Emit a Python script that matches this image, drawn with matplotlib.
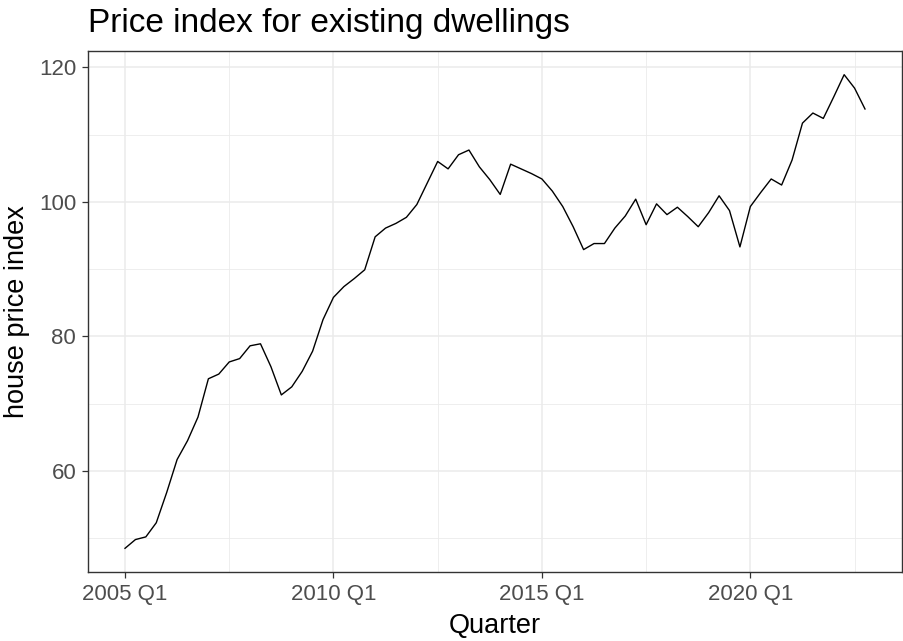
import matplotlib.pyplot as plt
import numpy as np

plt.rcParams['font.family'] = ['Liberation Sans', 'DejaVu Sans']

# quarterly price index, 2005 Q1 .. 2022 Q4
years = list(range(2005, 2023))
hpi = [
    48.5, 49.8, 50.2, 52.3,
    56.8, 61.7, 64.5, 68.0,
    73.7, 74.4, 76.2, 76.7,
    78.6, 78.9, 75.5, 71.3,
    72.5, 74.8, 77.8, 82.5,
    85.8, 87.4, 88.6, 89.9,
    94.8, 96.1, 96.8, 97.7,
    99.6, 102.8, 106.0, 104.9,
    107.0, 107.7, 105.2, 103.3,
    101.1, 105.6, 104.9, 104.2,
    103.4, 101.6, 99.3, 96.3,
    92.9, 93.8, 93.8, 96.1,
    97.9, 100.4, 96.6, 99.7,
    98.1, 99.2, 97.8, 96.3,
    98.4, 100.9, 98.7, 93.3,
    99.3, 101.4, 103.4, 102.5,
    106.2, 111.7, 113.2, 112.4,
    115.6, 118.9, 116.9, 113.8,
]
quarters = [f"{y} Q{q}" for y in years for q in range(1, 5)]

x = np.arange(len(hpi))
tick_labels = ["2005 Q1", "2010 Q1", "2015 Q1", "2020 Q1"]
tick_pos = [quarters.index(t) for t in tick_labels]

W, H = 904, 641
fig = plt.figure(figsize=(W / 100, H / 100), dpi=100)
left, right, top, bottom = 88, 902, 51, 572
ax = fig.add_axes([left / W, (H - bottom) / H, (right - left) / W, (bottom - top) / H])

ax.plot(x, hpi, color="black", lw=1.0, zorder=3)

n = len(hpi)
pad_x = 0.05 * (n - 1)
ax.set_xlim(-pad_x, n - 1 + pad_x)
ymin, ymax = min(hpi), max(hpi)
pad_y = 0.05 * (ymax - ymin)
ax.set_ylim(ymin - pad_y, ymax + pad_y)

ax.set_xticks(tick_pos)
ax.set_xticklabels(tick_labels)
ax.set_xticks([p + 10 for p in tick_pos], minor=True)
ax.set_yticks([60, 80, 100, 120])
ax.set_yticks([50, 70, 90, 110], minor=True)

ax.grid(which="major", color="#EBEBEB", lw=1.1, zorder=0)
ax.grid(which="minor", color="#EBEBEB", lw=0.6, zorder=0)
ax.set_axisbelow(True)

for s in ax.spines.values():
    s.set_color("#333333")
    s.set_linewidth(1.0)

ax.tick_params(which="major", length=4.5, width=0.9, color="#333333",
               labelcolor="#4D4D4D", labelsize=16, pad=4)
ax.tick_params(which="minor", length=0)

fig.text((left + right) / 2 / W, 1 - 633 / H, "Quarter",
         fontsize=19.5, ha="center", va="baseline")
fig.text(17 / W, 1 - (top + bottom) / 2 / H, "house price index",
         fontsize=19.5, rotation=90, ha="center", va="center")
fig.text(left / W, 1 - 32 / H, "Price index for existing dwellings",
         fontsize=24, ha="left", va="baseline")

fig.savefig("out.png", dpi=100)
